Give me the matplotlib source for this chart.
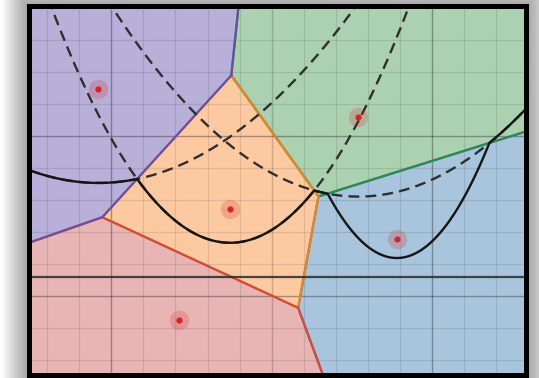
import numpy as np
import matplotlib
matplotlib.use("Agg")
import matplotlib.pyplot as plt
from matplotlib.patches import Polygon, Rectangle

# sites (grid units)
site_x = [-0.4, 7.7, 3.7, 8.9, 2.1]
site_y = [6.45, 5.6, 2.72, 1.77, -0.74]
fill_colors = ["#b8b0d9", "#acd1b0", "#fcc9a1", "#a9c4dd", "#e8b4b4"]
edge_colors = ["#6a4fa3", "#2f8a4f", "#e0872a", "#4a7fb0", "#d24b3b"]
draw_order = [3, 1, 2, 4, 0]   # blue, green, orange, red, purple

sweep_y = 0.61
dashed_sites = [0, 1, 2]

x_lim = (-2.56, 12.92)
y_lim = (-2.45, 9.03)
x_major = [0, 5, 10]
y_major = [0, 5]


def clip(poly, a, b, c):
    # keep the part of poly where a*x + b*y <= c
    out = []
    n = len(poly)
    for i in range(n):
        p, q = poly[i], poly[(i + 1) % n]
        fp = a * p[0] + b * p[1] - c
        fq = a * q[0] + b * q[1] - c
        if fp <= 0:
            out.append(p)
        if fp * fq < 0:
            t = fp / (fp - fq)
            out.append((p[0] + t * (q[0] - p[0]), p[1] + t * (q[1] - p[1])))
    return out


def cell(i):
    poly = [(x_lim[0], y_lim[0]), (x_lim[1], y_lim[0]),
            (x_lim[1], y_lim[1]), (x_lim[0], y_lim[1])]
    for j in range(len(site_x)):
        if j == i:
            continue
        a = 2 * (site_x[j] - site_x[i])
        b = 2 * (site_y[j] - site_y[i])
        c = site_x[j] ** 2 + site_y[j] ** 2 - site_x[i] ** 2 - site_y[i] ** 2
        poly = clip(poly, a, b, c)
    return poly


def parabola(xs, fx, fy, d):
    return ((xs - fx) ** 2 + fy ** 2 - d ** 2) / (2 * (fy - d))


W, H = 539, 378
fig = plt.figure(figsize=(W / 100, H / 100), dpi=100, facecolor="white")
ax = fig.add_axes([29.2 / W, 3.2 / H, 496.6 / W, 368.3 / H])

# soft shadow round the frame
for k in range(1, 14):
    e = 2 * k
    fig.add_artist(Rectangle(((29.2 - e) / W, (3.2 - e) / H),
                             (496.6 + 2 * e) / W, (368.3 + 2 * e) / H,
                             transform=fig.transFigure, facecolor="black",
                             edgecolor="none", alpha=0.03, zorder=-1))

ax.set_facecolor("white")
ax.set_xlim(*x_lim)
ax.set_ylim(*y_lim)

# voronoi cells
cells = [cell(i) for i in range(len(site_x))]
for i in draw_order:
    ax.add_patch(Polygon(cells[i], closed=True, facecolor=fill_colors[i],
                         edgecolor="none", zorder=1))
for i in draw_order:
    pts = np.array(cells[i] + [cells[i][0]])
    ax.plot(pts[:, 0], pts[:, 1], color=edge_colors[i], lw=1.6, zorder=2,
            solid_joinstyle="round")

# grid
ax.set_xticks(x_major)
ax.set_yticks(y_major)
ax.set_xticks(np.arange(-2, 13, 1), minor=True)
ax.set_yticks(np.arange(-2, 10, 1), minor=True)
ax.grid(which="minor", color="#1a1a1a", alpha=0.11, lw=0.9, zorder=1.5)
ax.grid(which="major", color="#1a1a1a", alpha=0.36, lw=1.0, zorder=1.5)
ax.set_axisbelow("line")
ax.get_xgridlines()[1].set_alpha(0.2)
ax.tick_params(which="both", length=0, labelbottom=False, labelleft=False)

# parabolas and beach line
xs = np.linspace(x_lim[0], x_lim[1], 3000)
above = [i for i in range(len(site_x)) if site_y[i] > sweep_y]
curves = {i: parabola(xs, site_x[i], site_y[i], sweep_y) for i in above}
for i in dashed_sites:
    ax.plot(xs, curves[i], color="#2e2e2e", lw=1.7, ls=(0, (4.6, 2.6)), zorder=3)
beach = np.min([curves[i] for i in above], axis=0)
ax.plot(xs, beach, color="#151515", lw=1.7, zorder=3.5)

# sweep line
ax.axhline(sweep_y, color="#2a2a2a", lw=1.6, alpha=0.85, zorder=3)

# sites
ax.plot(site_x, site_y, "o", ms=14, color="#d62728", alpha=0.22, mec="none", zorder=4)
ax.plot(site_x, site_y, "o", ms=4.5, color="#d62728", mec="none", zorder=4.5)

for s in ax.spines.values():
    s.set_linewidth(3.6)
    s.set_color("black")
    s.set_zorder(5)

fig.savefig("out.png", dpi=100, facecolor="white")
